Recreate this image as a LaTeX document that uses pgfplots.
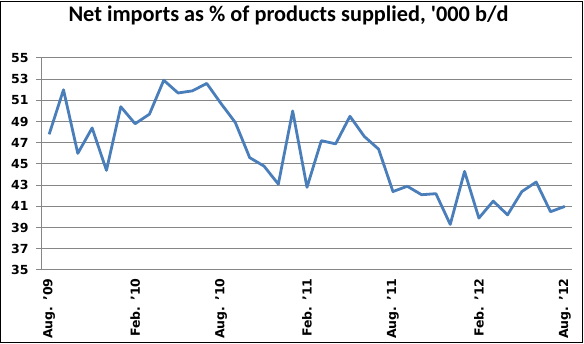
\documentclass[border=0pt]{standalone}
\usepackage{pgfplots}
\pgfplotsset{compat=1.18}
\usepackage{fontspec}
\setmainfont{DejaVu Sans}
\newfontfamily\titlefont{Carlito}
\definecolor{lineblue}{HTML}{4A7EBB}
\definecolor{gridgray}{HTML}{868686}

\begin{document}
\begin{tikzpicture}
\useasboundingbox (-42pt,-74pt) rectangle (542pt,270pt);
\draw[line width=1pt] (-41.5pt,-72.5pt) rectangle (540.5pt,268.5pt);
\node[font=\titlefont\bfseries\fontsize{22.3}{25}\selectfont, anchor=base]
    at (246.5pt,248pt) {Net imports as \% of products supplied, '000 b/d};
\begin{axis}[
    at={(0pt,0pt)}, anchor=south west,
    scale only axis,
    width=530pt, height=212pt,
    xmin=-0.5, xmax=36.5,
    ymin=35, ymax=55,
    ytick={35,37,...,55},
    xtick={0,6,...,36},
    xticklabels={Aug. '09,Feb. '10,Aug. '10,Feb. '11,Aug. '11,Feb. '12,Aug. '12},
    x tick label style={rotate=90, anchor=east, xshift=1pt},
    y tick label style={xshift=-4pt},
    major x tick style={draw=none},
    extra x ticks={-0.5,5.5,...,35.5},
    extra x tick labels={},
    extra x tick style={major tick length=5pt, tick style={draw=gridgray, line width=1pt}},
    tick align=outside,
    major tick length=6pt,
    axis lines*=left,
    axis line style={draw=gridgray, line width=1pt, -},
    y tick style={draw=gridgray, line width=1pt},
    ymajorgrids,
    grid style={draw=gridgray, line width=1pt},
    tick label style={font=\fontsize{12.5}{14}\selectfont\bfseries},
    /pgf/number format/assume math mode=true,
    clip=false,
]
\addplot[color=lineblue, line width=2.8pt, line join=round] coordinates {
    (0,47.8)(1,52.0)(2,46.0)(3,48.4)(4,44.4)(5,50.4)(6,48.8)(7,49.7)
    (8,52.9)(9,51.7)(10,51.9)(11,52.6)(12,50.7)(13,48.9)(14,45.6)(15,44.8)
    (16,43.1)(17,50.0)(18,42.8)(19,47.2)(20,46.9)(21,49.5)(22,47.6)(23,46.4)
    (24,42.4)(25,42.9)(26,42.1)(27,42.2)(28,39.3)(29,44.3)(30,39.9)(31,41.5)
    (32,40.2)(33,42.4)(34,43.3)(35,40.5)(36,41.0)
};
\end{axis}
\end{tikzpicture}
\end{document}
